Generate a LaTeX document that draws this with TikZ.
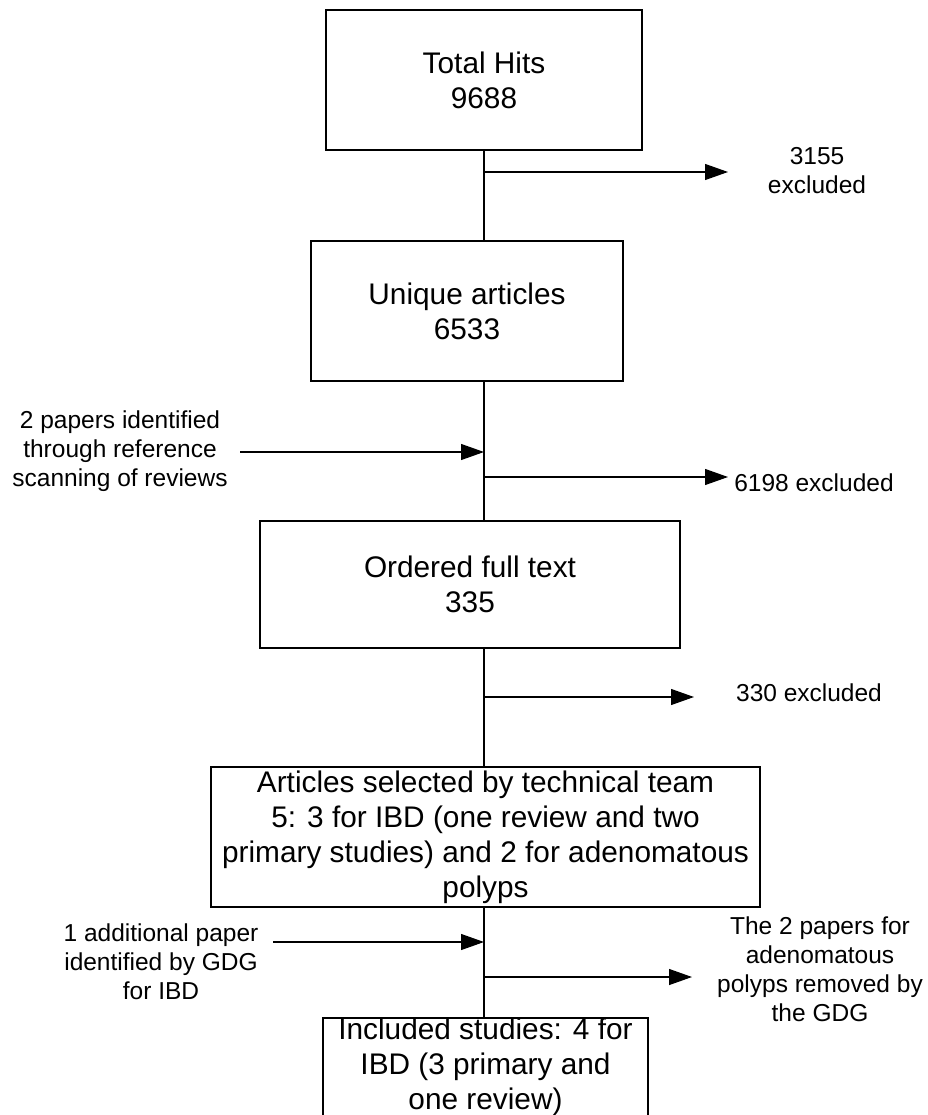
\documentclass[tikz,border=0pt]{standalone}
\usepackage{fontspec}
\setmainfont{Liberation Sans}
\usetikzlibrary{arrows.meta}

\tikzset{every node/.style={align=center,font=\fontsize{29.8}{35}\selectfont},
box/.style={draw,rectangle,line width=1.3pt,inner sep=0pt},
side/.style={inner sep=0pt,font=\fontsize{24.5}{29}\selectfont},
arr/.style={line width=1.2pt,-{Triangle[length=23pt,width=16pt]}}}

\begin{document}
\begin{tikzpicture}[x=1pt,y=-1pt]
\useasboundingbox (0,0) rectangle (927,1115);
\clip (0,0) rectangle (927,1115);
\path
(484,80) node[box,minimum width=316,minimum height=140](hits){Total Hits\\9688}
(467,311) node[box,minimum width=312,minimum height=140](unique){Unique articles\\6533}
(470,584.5) node[box,minimum width=420,minimum height=127](ordered){Ordered full text\\335}
(485.5,837) node[box,minimum width=549,minimum height=140](selected){Articles selected by technical team\\5: 3 for IBD (one review and two\\primary studies) and 2 for adenomatous\\polyps}
(485.5,1067) node[box,minimum width=325,minimum height=96](included){Included studies: 4 for\\IBD (3 primary and\\one review)};
\path
(817,170.5) node[side](ex3155){3155\\excluded}
(120,451) node[side](refscan){2 papers identified\\through reference\\scanning of reviews}
(814,483) node[side](ex6198){6198 excluded}
(809,693) node[side](ex330){330 excluded}
(161,962) node[side](gdgadd){1 additional paper\\identified by GDG\\for IBD}
(820,969.5) node[side](gdgrem){The 2 papers for\\adenomatous\\polyps removed by\\the GDG};
\coordinate (j1) at (484,172);
\coordinate (o1) at (728,172);
\coordinate (i2) at (240,452);
\coordinate (j2) at (484,452);
\coordinate (j3) at (484,477);
\coordinate (o3) at (728,477);
\coordinate (j4) at (484,697);
\coordinate (o4) at (694,697);
\coordinate (i5) at (273,942);
\coordinate (j5) at (484,942);
\coordinate (j6) at (484,977);
\coordinate (o6) at (692,977);
\path[draw,line width=1.2pt] (hits.south)--(hits.south |- unique.north);
\path[draw,line width=1.2pt] (unique.south -| hits.south)--(hits.south |- ordered.north);
\path[draw,line width=1.2pt] (ordered.south -| hits.south)--(hits.south |- selected.north);
\path[draw,line width=1.2pt] (selected.south -| hits.south)--(hits.south |- included.north);
\path[draw,arr] (j1)--(o1);
\path[draw,arr] (i2)--(j2);
\path[draw,arr] (j3)--(o3);
\path[draw,arr] (j4)--(o4);
\path[draw,arr] (i5)--(j5);
\path[draw,arr] (j6)--(o6);
\end{tikzpicture}
\end{document}
